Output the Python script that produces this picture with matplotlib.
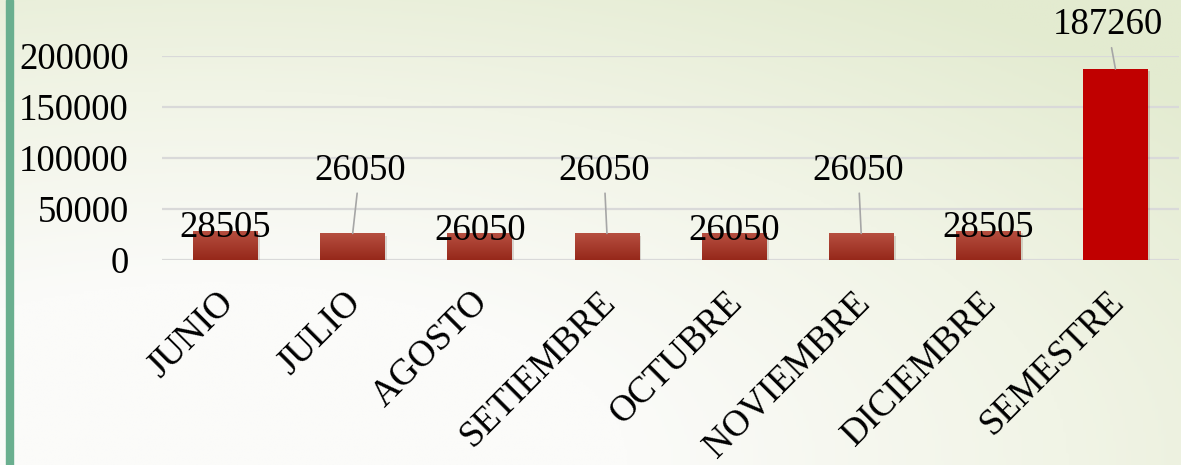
import matplotlib
matplotlib.use("Agg")
import matplotlib.pyplot as plt
import matplotlib.patheffects as pe
import matplotlib.transforms as mtransforms
from matplotlib.colors import LinearSegmentedColormap
from matplotlib.patches import Rectangle
import numpy as np

# datos del grafico
meses = ["JUNIO", "JULIO", "AGOSTO", "SETIEMBRE", "OCTUBRE", "NOVIEMBRE", "DICIEMBRE", "SEMESTRE"]
montos = [28505, 26050, 26050, 26050, 26050, 26050, 28505, 187260]
yticks = [0, 50000, 100000, 150000, 200000]

# desplazamiento de cada etiqueta (pixeles) respecto a la parte superior de la barra
label_off = [(0, 3), (7, 63), (0, 3), (-3, 63), (0, 3), (-3, 63), (0, 3), (-8, 44)]
con_linea = [False, True, False, True, False, True, False, True]

plt.rcParams['font.family'] = ['Liberation Serif', 'DejaVu Serif']
fs = 26.5

W, H = 1181, 465
fig = plt.figure(figsize=(W / 100, H / 100), dpi=100)

# fondo degradado blanco -> verde claro
bg = fig.add_axes([0, 0, 1, 1], zorder=-10)
yy, xx = np.mgrid[0:1:200j, 0:1:400j]
d = np.sqrt(((xx - 0.18) * 1.0) ** 2 + ((yy - 0.0) * 0.9) ** 2)
t = np.clip((d - 0.35) / 0.75, 0, 1)
cmap_bg = LinearSegmentedColormap.from_list("bg", ["#fbfbf9", "#f1f4e6", "#e3ebd0"])
bg.imshow(t, cmap=cmap_bg, aspect="auto", origin="lower", extent=[0, 1, 0, 1])
bg.axis("off")
fig.patches.append(Rectangle((6 / W, 0), 7 / W, 1, transform=fig.transFigure,
                             color="#6aaf8f", zorder=5))

ax = fig.add_axes([162 / W, 1 - 260 / H, (1179 - 162) / W, (260 - 56) / H])
ax.set_facecolor("none")
x = np.arange(len(meses))
colores = ["#a83c2c"] * 7 + ["#c00000"]
bars = ax.bar(x, montos, width=0.51, color=colores, zorder=3)
for b in bars:
    b.set_path_effects([pe.SimplePatchShadow(offset=(1.5, -1.5), alpha=0.15), pe.Normal()])

# degradado en las barras mensuales
grad = LinearSegmentedColormap.from_list("bar", ["#96281a", "#b64f40"])
for b in bars[:7]:
    x0, w, h = b.get_x(), b.get_width(), b.get_height()
    im = ax.imshow(np.linspace(0, 1, 50).reshape(-1, 1), cmap=grad, origin="lower",
                   extent=[x0, x0 + w, 0, h], aspect="auto", zorder=4)
    im.set_clip_path(b)

ax.set_xlim(-0.5, len(meses) - 0.5)
ax.set_ylim(0, 200000)
ax.set_yticks(yticks)
ax.set_yticklabels([str(v) for v in yticks], fontsize=fs)
ax.tick_params(axis="y", length=0, pad=24)
ax.tick_params(axis="x", length=0, pad=18)
ax.set_xticks(x)
ax.set_xticklabels(meses, fontsize=fs, rotation=45, ha="right", rotation_mode="anchor")
shift = mtransforms.ScaledTranslation(-9 / 100, 0, fig.dpi_scale_trans)
for lbl in ax.get_xticklabels():
    lbl.set_transform(lbl.get_transform() + shift)
ax.grid(axis="y", color="#d9d9d9", linewidth=1.6, zorder=0)
for s in ax.spines.values():
    s.set_visible(False)

for i, v in enumerate(montos):
    dx, dy = label_off[i]
    props = dict(arrowstyle="-", color="#a6a6a6", lw=1.2, shrinkA=2, shrinkB=0) if con_linea[i] else None
    ax.annotate(str(v), xy=(x[i], v), xytext=(dx, dy), textcoords="offset pixels",
                ha="center", va="center", fontsize=fs, zorder=6,
                arrowprops=props, annotation_clip=False)

fig.savefig("out.png", dpi=100)
